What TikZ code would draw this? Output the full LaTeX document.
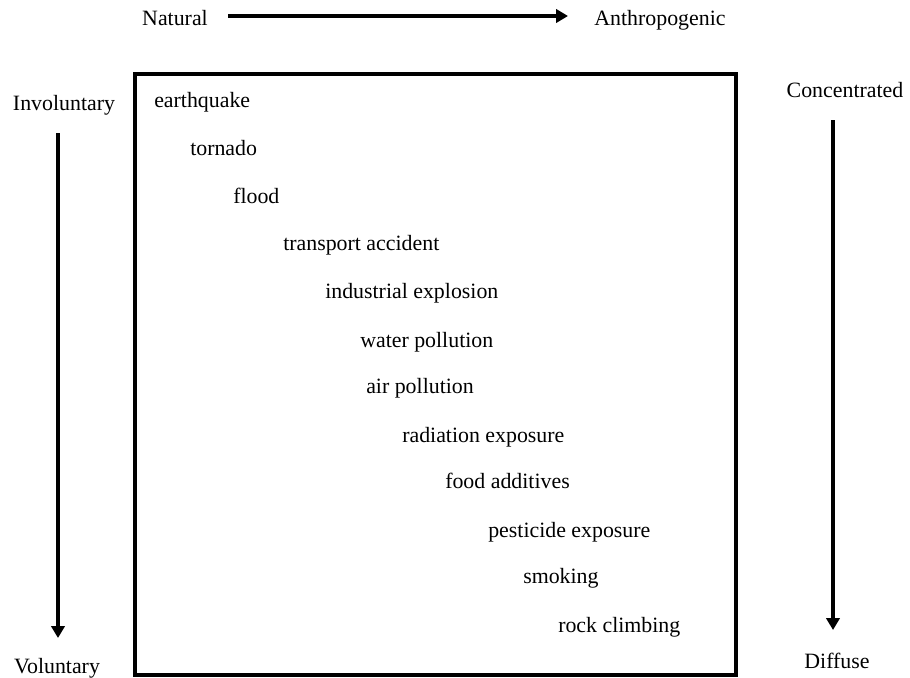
\documentclass[tikz,border=0pt]{standalone}
\usepackage{fontspec}
\setmainfont{Liberation Serif}
\usetikzlibrary{arrows.meta,positioning}

\begin{document}
\begin{tikzpicture}[x=0.75pt,y=-0.75pt,
    font=\fontsize{16.4}{19}\selectfont,
    hazard/.style={anchor=base west,inner sep=0pt},
    pole/.style={anchor=base,inner sep=0pt},
    scale arrow/.style={line width=3pt,-{Triangle[length=9pt,width=10pt]}}]
  \useasboundingbox (0,0) rectangle (910,678);

  % top scale
  \node[pole] (natural) at (175,26) {Natural};
  \node[pole] (anthro) at (660,26) {Anthropogenic};
  \coordinate (natA) at (228,16);
  \coordinate (natB) at (568,16);
  \draw[scale arrow] (natA) -- (natB);

  % left scale
  \node[pole] (invol) at (64,110) {Involuntary};
  \node[pole] (vol) at (57,673) {Voluntary};
  \coordinate (volA) at (58,133);
  \coordinate (volB) at (58,638);
  \draw[scale arrow] (volA) -- (volB);

  % right scale
  \node[pole] (conc) at (845,97) {Concentrated};
  \node[pole] (diff) at (837,668) {Diffuse};
  \coordinate (concA) at (833,120);
  \coordinate (concB) at (833,630);
  \draw[scale arrow] (concA) -- (concB);

  % frame
  \draw[line width=2.6pt] (135,74) rectangle (736,675);

  % hazards
  \foreach \hx/\hy/\htext [count=\i] in {
      154/107/earthquake,
      190/155/tornado,
      233/203/flood,
      283/250/transport accident,
      325/298/industrial explosion,
      360/347/water pollution,
      366/393/air pollution,
      402/442/radiation exposure,
      445/488/food additives,
      488/537/pesticide exposure,
      523/583/smoking,
      558/632/rock climbing}
    \node[hazard] (haz\i) at (\hx,\hy) {\htext};
\end{tikzpicture}
\end{document}
